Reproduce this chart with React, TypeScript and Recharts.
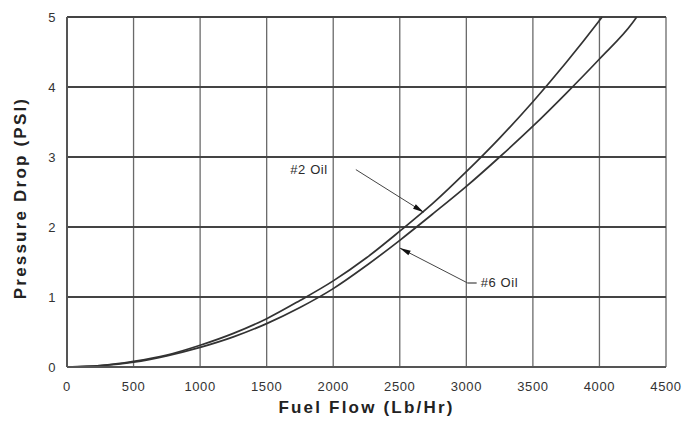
import React from "react";
import {
  CartesianGrid,
  Line,
  LineChart,
  ReferenceLine,
  XAxis,
  YAxis,
} from "recharts";

// fuel flow (Lb/Hr) vs pressure drop (PSI)
const oil2Flow = [0, 250, 500, 750, 1000, 1250, 1500, 1750, 2000, 2250, 2500, 2750, 3000, 3250, 3500, 3750, 4000, 4020];
const oil2Drop = [0, 0.02, 0.08, 0.17, 0.31, 0.48, 0.69, 0.95, 1.23, 1.56, 1.94, 2.34, 2.79, 3.27, 3.79, 4.35, 4.95, 5];

const oil6Flow = [0, 250, 500, 750, 1000, 1250, 1500, 1750, 2000, 2250, 2500, 2750, 3000, 3250, 3500, 3750, 4000, 4250, 4280];
const oil6Drop = [0, 0.02, 0.07, 0.16, 0.28, 0.43, 0.62, 0.85, 1.12, 1.45, 1.81, 2.19, 2.58, 3.0, 3.44, 3.91, 4.4, 4.92, 5];

const xTicks = [0, 500, 1000, 1500, 2000, 2500, 3000, 3500, 4000, 4500];
const yTicks = [0, 1, 2, 3, 4, 5];

const oil2 = oil2Flow.map((flow, i) => ({ flow, drop: oil2Drop[i] }));
const oil6 = oil6Flow.map((flow, i) => ({ flow, drop: oil6Drop[i] }));

const FONT = "'Liberation Sans', Arial, sans-serif";
const INK = "#2b2b2b";

const tickStyle = { fontSize: 13, fill: "#333", fontFamily: FONT, letterSpacing: 0.6 };
const titleStyle = {
  fontSize: 17,
  fontWeight: 700,
  fill: "#222",
  fontFamily: FONT,
  letterSpacing: 2.2,
};

// arrow from a label to its curve; the label sits left or right of the line start
function makeArrow(label: string, side: "left" | "right") {
  return (props: any) => {
    const { x1, y1, x2, y2 } = props;
    const ang = Math.atan2(y2 - y1, x2 - x1);
    const len = 11;
    const w = 2.6;
    const bx = x2 - len * Math.cos(ang);
    const by = y2 - len * Math.sin(ang);
    const px = -Math.sin(ang) * w;
    const py = Math.cos(ang) * w;
    return (
      <g>
        <line x1={x1} y1={y1} x2={x2} y2={y2} stroke="#444" strokeWidth={1} />
        <polygon
          points={`${x2},${y2} ${bx + px},${by + py} ${bx - px},${by - py}`}
          fill="#111"
        />
        {side === "right" ? (
          <>
            <line x1={x1} y1={y1} x2={x1 + 9} y2={y1} stroke="#444" strokeWidth={1.2} />
            <text x={x1 + 13} y={y1 + 4} fontSize={13} letterSpacing={0.6} fontFamily={FONT} fill={INK}>
              {label}
            </text>
          </>
        ) : (
          <text
            x={x1 - 28}
            y={y1 + 4}
            fontSize={13}
            letterSpacing={0.6}
            fontFamily={FONT}
            fill={INK}
            textAnchor="end"
          >
            {label}
          </text>
        )}
      </g>
    );
  };
}

export default function App() {
  return (
    <div style={{ position: "absolute", left: 0, top: 0, background: "#fff" }}>
      <LineChart
        width={698}
        height={421}
        margin={{ top: 17, right: 32, bottom: 0, left: 0 }}
      >
        <CartesianGrid horizontal={false} stroke="#6a6a6a" strokeWidth={1.3} />
        <CartesianGrid vertical={false} stroke="#444" strokeWidth={2} />
        <XAxis
          type="number"
          dataKey="flow"
          domain={[0, 4500]}
          ticks={xTicks}
          height={54}
          tickLine={false}
          axisLine={{ stroke: "#555", strokeWidth: 2 }}
          tick={tickStyle}
          tickMargin={9}
          allowDataOverflow
          label={{
            value: "Fuel Flow (Lb/Hr)",
            position: "insideBottom",
            offset: 8,
            style: titleStyle,
          }}
        />
        <YAxis
          type="number"
          dataKey="drop"
          domain={[0, 5]}
          ticks={yTicks}
          width={67}
          tickLine={false}
          axisLine={{ stroke: "#555", strokeWidth: 2 }}
          tick={tickStyle}
          tickMargin={5}
          label={{
            value: "Pressure Drop (PSI)",
            angle: -90,
            position: "insideLeft",
            offset: 20,
            dy: 6,
            style: { ...titleStyle, textAnchor: "middle" },
          }}
        />
        <Line
          data={oil2}
          dataKey="drop"
          type="monotone"
          stroke="#333"
          strokeWidth={1.7}
          dot={false}
          isAnimationActive={false}
        />
        <Line
          data={oil6}
          dataKey="drop"
          type="monotone"
          stroke="#333"
          strokeWidth={1.7}
          dot={false}
          isAnimationActive={false}
        />
        <ReferenceLine
          segment={[
            { x: 2170, y: 2.82 },
            { x: 2680, y: 2.21 },
          ]}
          shape={makeArrow("#2 Oil", "left")}
        />
        <ReferenceLine
          segment={[
            { x: 3010, y: 1.2 },
            { x: 2500, y: 1.7 },
          ]}
          shape={makeArrow("#6 Oil", "right")}
        />
      </LineChart>
    </div>
  );
}
